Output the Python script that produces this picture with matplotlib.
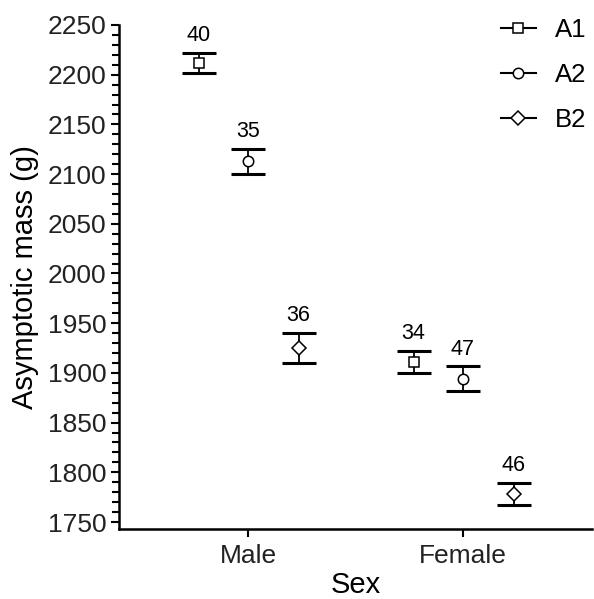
import matplotlib
matplotlib.use("Agg")
import matplotlib.pyplot as plt
import numpy as np
from matplotlib.ticker import MultipleLocator

plt.rcParams['font.family'] = ['Liberation Sans', 'DejaVu Sans']

sexes = ["Male", "Female"]
groups = ["A1", "A2", "B2"]
markers = ["s", "o", "D"]
means = {"A1": [2212, 1911], "A2": [2113, 1894], "B2": [1925, 1778]}
errs = {"A1": [10, 11], "A2": [12.5, 12.5], "B2": [15, 11]}
counts = {"A1": [40, 34], "A2": [35, 47], "B2": [36, 46]}
offsets = [-0.23, 0.0, 0.235]

fig = plt.figure(figsize=(5.94, 5.99), dpi=100)
ax = fig.add_axes([0.2003, 0.1169, 0.7963, 0.8414])

x = np.arange(1, len(sexes) + 1)
for g, m, off in zip(groups, markers, offsets):
    xs = x + off
    ax.errorbar(xs, means[g], yerr=errs[g], fmt='none', ecolor='black',
                elinewidth=1.3, capsize=12, capthick=2.2, zorder=2)
    ax.plot(xs, means[g], linestyle='none', marker=m, markersize=7.5 if m != 'D' else 7,
            markerfacecolor='white', markeredgecolor='black', markeredgewidth=1.1, zorder=3)
    for xi, yi, ei, n in zip(xs, means[g], errs[g], counts[g]):
        ax.annotate(str(n), (xi, yi + ei), xytext=(0, 5), textcoords='offset points',
                    ha='center', va='bottom', fontsize=15.5, color='black')

handles = []
for g, m in zip(groups, markers):
    h, = ax.plot([], [], color='black', linewidth=1.5, marker=m,
                 markersize=7.5 if m != 'D' else 7, markerfacecolor='white',
                 markeredgecolor='black', markeredgewidth=1.1, label=g)
    handles.append(h)
leg = ax.legend(handles=handles, loc='upper right', frameon=False, fontsize=18.5,
                handlelength=1.35, handletextpad=0.75, labelspacing=0.82,
                bbox_to_anchor=(1.01, 1.035), borderaxespad=0.0)

ax.set_xlim(0.4, 2.6)
ax.set_ylim(1743, 2250)
ax.set_xticks(x)
ax.set_xticklabels(sexes)
ax.yaxis.set_major_locator(MultipleLocator(50))
ax.yaxis.set_minor_locator(MultipleLocator(10))

for s in ['top', 'right']:
    ax.spines[s].set_visible(False)
for s in ['left', 'bottom']:
    ax.spines[s].set_linewidth(1.8)
    ax.spines[s].set_color('black')

ax.tick_params(axis='both', which='major', labelsize=19, labelcolor='#222222',
               length=6, width=1.5, direction='out')
ax.tick_params(axis='y', which='minor', length=5, width=1.5, direction='out')
ax.tick_params(axis='y', pad=3)
ax.tick_params(axis='x', pad=5)

ax.set_xlabel("Sex", fontsize=21, color='black', labelpad=2)
ax.set_ylabel("Asymptotic mass (g)", fontsize=21, color='black', labelpad=6)

fig.savefig("out.png", dpi=100)
